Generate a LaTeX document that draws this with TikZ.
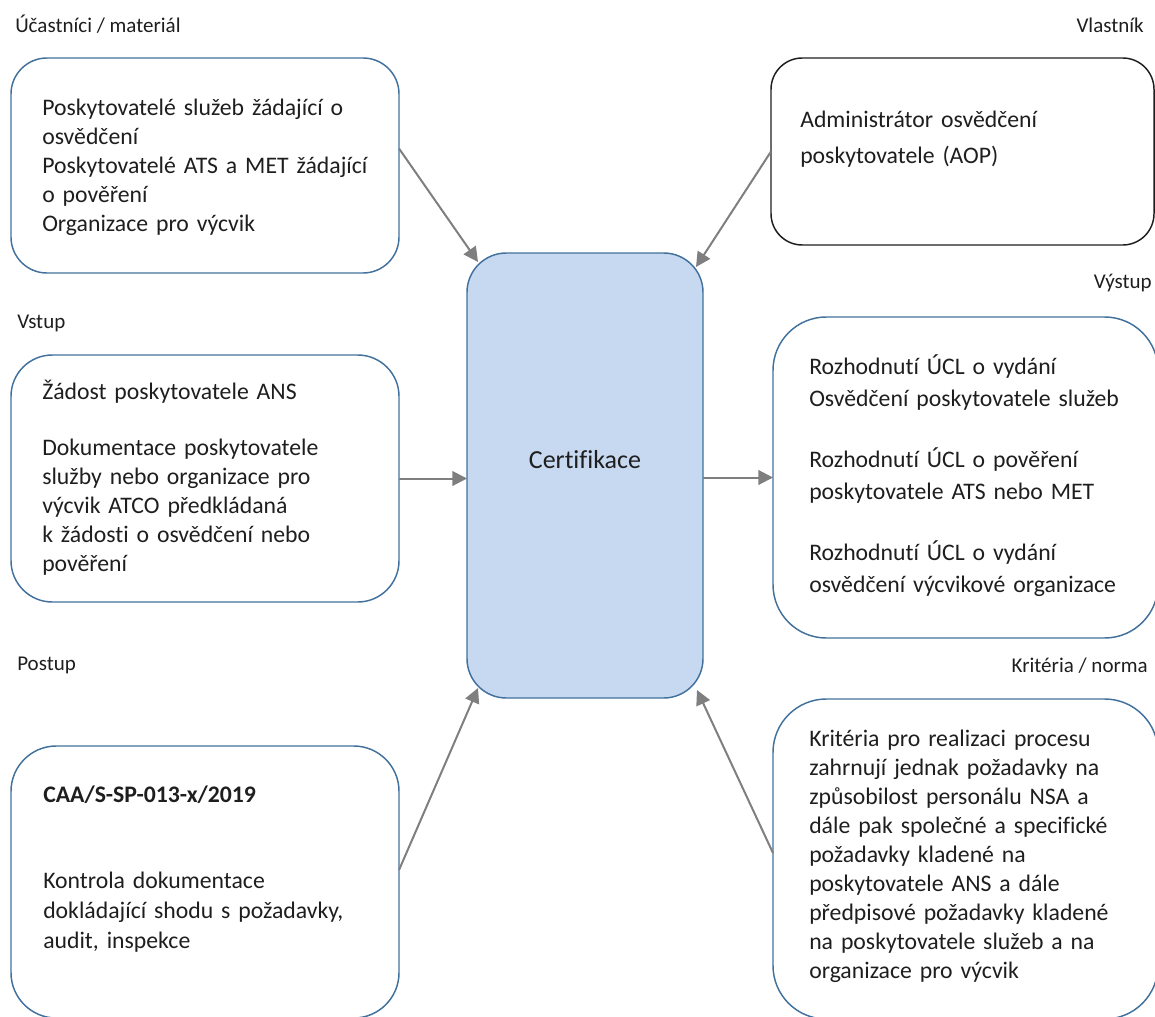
\documentclass[tikz,border=0pt]{standalone}
\usepackage{fontspec}
\setmainfont{Carlito}[Ligatures=CommonOff]
\usepackage{xcolor}
\usetikzlibrary{calc,arrows.meta}
\definecolor{boxline}{HTML}{41719C}
\definecolor{boxfill}{HTML}{C7D9F0}
\definecolor{arrgray}{HTML}{7F7F7F}
\definecolor{txtgray}{HTML}{1E1E1E}

\begin{document}
\begin{tikzpicture}[x=0.75pt, y=-0.75pt,
	box/.style={draw=boxline, line width=1.1pt, rectangle, anchor=north west,
	inner sep=0pt, outer sep=0pt},
	txt/.style={anchor=base west, align=left, text width=250pt, inner sep=0pt,
	text=txtgray, font=\fontsize{17.8}{21.75}\selectfont},
	lbl/.style={inner sep=0pt, text=txtgray, font=\fontsize{15.75}{19}\selectfont},
	arr/.style={draw=arrgray, line width=1.5pt, -{Triangle[length=11pt, width=11pt]}}]

\useasboundingbox (0,0) rectangle (1155,1016);
\clip (0,0) rectangle (1155,1016);

\node[box, rounded corners=27pt, minimum width=291pt, minimum height=161.25pt] (ucast) at (11,58) {};
\node[box, draw=txtgray, rounded corners=23.5pt, minimum width=287.25pt, minimum height=140.25pt] (vlast) at (771,58) {};
\node[box, fill=boxfill, rounded corners=29.5pt, minimum width=177pt, minimum height=333.75pt] (cert) at (467,253) {};
\node[box, rounded corners=31pt, minimum width=291pt, minimum height=185.25pt] (vstup) at (11,355) {};
\node[box, rounded corners=40pt, minimum width=288.75pt, minimum height=240.75pt] (vystup) at (773,317) {};
\node[box, rounded corners=34pt, minimum width=291pt, minimum height=204pt] (postup) at (11,746) {};
\node[box, rounded corners=40pt, minimum width=288.75pt, minimum height=240pt] (krit) at (773,699) {};

\node[lbl, anchor=base west] (ucastL) at (15,33) {Účastníci / materiál};
\node[lbl, anchor=base east] (vlastL) at (1144,33) {Vlastník};
\node[lbl, anchor=base west] (vstupL) at (17,328) {Vstup};
\node[lbl, anchor=base east] (vystupL) at (1152,288) {Výstup};
\node[lbl, anchor=base west] (postupL) at (17,670) {Postup};
\node[lbl, anchor=base east] (kritL) at (1148,672) {Kritéria / norma};

\node[txt] (ucastT) at (42,116) {Poskytovatelé služeb žádající o\\osvědčení\\Poskytovatelé ATS a MET žádající\\o pověření\\Organizace pro výcvik};
\node[txt, font=\fontsize{17.8}{26.75}\selectfont] (vlastT) at (800,128) {Administrátor osvědčení\\poskytovatele (AOP)};
\node[lbl, anchor=base, font=\fontsize{19.5}{23}\selectfont] (certT) at (585,468) {Certifikace};
\node[txt] (vstupT) at (42,399) {Žádost poskytovatele ANS\\[20.25pt]Dokumentace poskytovatele\\služby nebo organizace pro\\výcvik ATCO předkládaná\\k~žádosti o osvědčení nebo\\pověření};
\node[txt, font=\fontsize{17.8}{24}\selectfont] (vystupT) at (809,374) {Rozhodnutí ÚCL o vydání\\Osvědčení poskytovatele služeb\\[21.75pt]Rozhodnutí ÚCL o pověření\\poskytovatele ATS nebo MET\\[21.75pt]Rozhodnutí ÚCL o vydání\\osvědčení výcvikové organizace};
\node[txt, font=\fontsize{17.8}{22.5}\selectfont] (postupT) at (43,802) {\textbf{CAA/S-SP-013-x/2019}\\[42pt]Kontrola dokumentace\\dokládající shodu s požadavky,\\audit, inspekce};
\node[txt, font=\fontsize{17.8}{21.8}\selectfont] (kritT) at (809,746) {Kritéria pro realizaci procesu\\zahrnují jednak požadavky na\\způsobilost personálu NSA a\\dále pak společné a specifické\\požadavky kladené na\\poskytovatele ANS a dále\\předpisové požadavky kladené\\na poskytovatele služeb a na\\organizace pro výcvik};

\draw[arr] ($(ucast.east)+(0,-17)$) -- ($(cert.north west)+(11,9)$);
\draw[arr] (vlast.west) -- ($(cert.north east)+(-7,14)$);
\draw[arr] (vstup.east) -- (vstup.east -| cert.west);
\draw[arr] (cert.east |- vystup.west) -- (vystup.west);
\draw[arr] ($(postup.east)+(0,-12)$) -- ($(cert.south west)+(11,-10)$);
\draw[arr] ($(krit.west)+(0,-6)$) -- ($(cert.south east)+(-6,-8)$);
\end{tikzpicture}
\end{document}
